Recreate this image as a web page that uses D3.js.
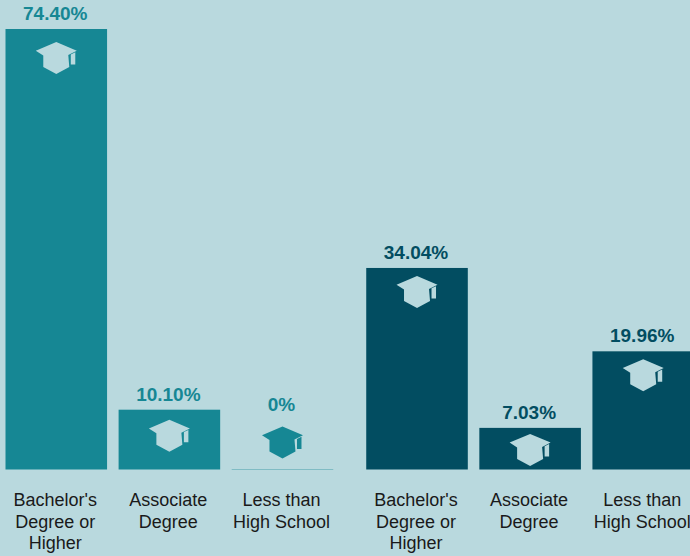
<!DOCTYPE html>
<html>
<head>
<meta charset="utf-8">
<script src="https://cdn.jsdelivr.net/npm/d3@7"></script>
<style>
  html, body { margin: 0; padding: 0; background: #b9d9de; overflow: hidden; }
  text { font-family: "Liberation Sans", Arial, sans-serif; }
  .value { font-size: 19px; font-weight: bold; text-anchor: middle; }
  .category { font-size: 18px; fill: #1a1a1a; text-anchor: middle; }
</style>
</head>
<body>
<div id="wrapper"></div>
<script>
const groups = ["first", "second"]
const categories = ["Bachelor's Degree or Higher", "Associate Degree", "Less than High School"]
const firstValues = [74.40, 10.10, 0]
const secondValues = [34.04, 7.03, 19.96]
const valueLabels = [["74.40%", "10.10%", "0%"], ["34.04%", "7.03%", "19.96%"]]
const categoryLines = [["Bachelor's", "Degree or", "Higher"], ["Associate", "Degree"], ["Less than", "High School"]]
const groupColors = ["#168794", "#024d61"]

const width = 690
const height = 556
const baseline = 469.5

// how far the cap sits below the top of each bar, by hand from the picture
const capGaps = [[13, 10, -43], [8, 6, 8]]

const bg = "#b9d9de"

const x0 = d3.scaleBand()
  .domain(groups)
  .range([5.5, 694])
  .paddingInner(0.0914)
const x1 = d3.scaleBand()
  .domain(categories)
  .range([0, x0.bandwidth()])
  .paddingInner(0.102)
const y = d3.scaleLinear()
  .domain([0, 74.4])
  .range([baseline, 29])

const svg = d3.select("#wrapper")
  .append("svg")
  .attr("width", width)
  .attr("height", height)
  .style("display", "block")

const rows = groups.flatMap((g, gi) => {
  const values = gi == 0 ? firstValues : secondValues
  return categories.map((c, ci) => ({
    group: g, category: c, value: values[ci],
    label: valueLabels[gi][ci], lines: categoryLines[ci],
    color: groupColors[gi], gap: capGaps[gi][ci],
  }))
})

const cx = d => x0(d.group) + x1(d.category) + x1.bandwidth() / 2

const cols = svg.selectAll(".col")
  .data(rows)
  .enter().append("g")
  .attr("class", "col")

cols.append("rect")
  .attr("x", d => x0(d.group) + x1(d.category))
  .attr("width", x1.bandwidth())
  .attr("y", d => y(d.value))
  .attr("height", d => baseline - y(d.value))
  .attr("fill", d => d.color)

// the empty bar still shows as a hairline
cols.filter(d => d.value == 0).append("line")
  .attr("x1", d => x0(d.group) + x1(d.category))
  .attr("x2", d => x0(d.group) + x1(d.category) + x1.bandwidth())
  .attr("y1", baseline)
  .attr("y2", baseline)
  .attr("stroke", d => d.color)
  .attr("stroke-opacity", 0.35)

const capBody = "M0,0 L20.5,8.7 L12,13 L13,25 L0,32 L-13,25 L-13,13.5 L-20.5,8.7 Z"
const capTassel = "M14.5,12.4 L19,10.2 L19,22.5 L14.5,22.5 Z"

const caps = cols.append("g")
  .attr("transform", d => `translate(${cx(d)},${y(d.value) + d.gap})`)
  .attr("fill", d => d.value == 0 ? d.color : bg)
caps.append("path").attr("d", capBody)
caps.append("path").attr("d", capTassel)

cols.append("text")
  .attr("class", "value")
  .attr("x", d => cx(d) - 1)
  .attr("y", d => d.value == 0 ? 411 : y(d.value) - 9)
  .attr("fill", d => d.color)
  .text(d => d.label)

cols.append("text")
  .attr("class", "category")
  .attr("x", d => cx(d) - 1)
  .attr("y", 506)
  .selectAll("tspan")
  .data(d => d.lines)
  .enter().append("tspan")
  .attr("x", function() { return this.parentNode.getAttribute("x") })
  .attr("dy", (d, i) => i == 0 ? 0 : 21.5)
  .text(d => d)
</script>
</body>
</html>
